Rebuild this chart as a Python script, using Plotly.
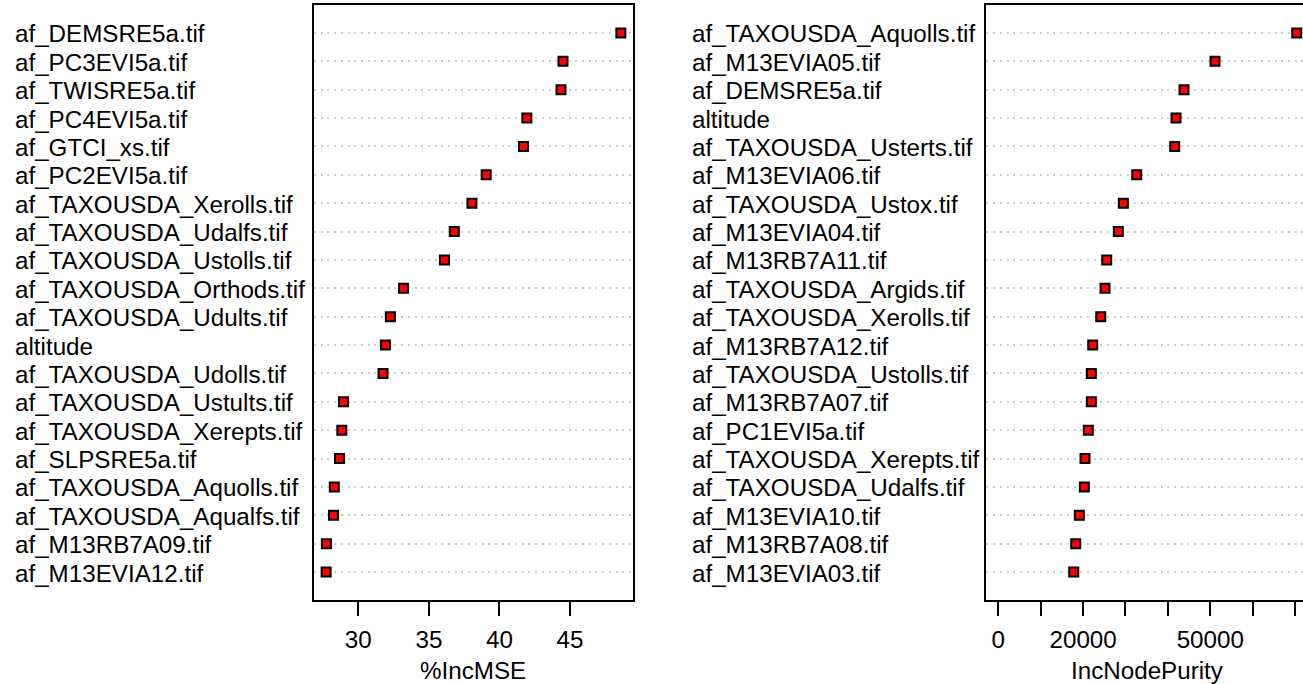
import plotly.graph_objects as go

# ---- data ----
mse_labels = [
    "af_DEMSRE5a.tif", "af_PC3EVI5a.tif", "af_TWISRE5a.tif", "af_PC4EVI5a.tif",
    "af_GTCI_xs.tif", "af_PC2EVI5a.tif", "af_TAXOUSDA_Xerolls.tif",
    "af_TAXOUSDA_Udalfs.tif", "af_TAXOUSDA_Ustolls.tif", "af_TAXOUSDA_Orthods.tif",
    "af_TAXOUSDA_Udults.tif", "altitude", "af_TAXOUSDA_Udolls.tif",
    "af_TAXOUSDA_Ustults.tif", "af_TAXOUSDA_Xerepts.tif", "af_SLPSRE5a.tif",
    "af_TAXOUSDA_Aquolls.tif", "af_TAXOUSDA_Aqualfs.tif", "af_M13RB7A09.tif",
    "af_M13EVIA12.tif",
]
mse_values = [
    48.6, 44.5, 44.36, 41.94, 41.7, 39.06, 38.05, 36.8, 36.1, 33.2,
    32.27, 31.92, 31.75, 28.95, 28.83, 28.67, 28.3, 28.24, 27.74, 27.72,
]

np_labels = [
    "af_TAXOUSDA_Aquolls.tif", "af_M13EVIA05.tif", "af_DEMSRE5a.tif", "altitude",
    "af_TAXOUSDA_Usterts.tif", "af_M13EVIA06.tif", "af_TAXOUSDA_Ustox.tif",
    "af_M13EVIA04.tif", "af_M13RB7A11.tif", "af_TAXOUSDA_Argids.tif",
    "af_TAXOUSDA_Xerolls.tif", "af_M13RB7A12.tif", "af_TAXOUSDA_Ustolls.tif",
    "af_M13RB7A07.tif", "af_PC1EVI5a.tif", "af_TAXOUSDA_Xerepts.tif",
    "af_TAXOUSDA_Udalfs.tif", "af_M13EVIA10.tif", "af_M13RB7A08.tif",
    "af_M13EVIA03.tif",
]
np_values = [
    70400, 51120, 43810, 41920, 41610, 32650, 29490, 28310, 25570, 25170,
    24160, 22270, 21940, 21940, 21230, 20450, 20290, 19110, 18260, 17790,
]

mse_tickvals = [30, 35, 40, 45]
mse_ticktext = ["30", "35", "40", "45"]
np_tickvals = [0, 10000, 20000, 30000, 40000, 50000, 60000, 70000]
np_ticktext = ["0", "", "20000", "", "", "50000", "", ""]

mse_title = "%IncMSE"
np_title = "IncNodePurity"

# ---- layout geometry (page margin removed by post_script) ----
W, H = 1303, 684
FONT = "Liberation Sans, Arial, sans-serif"
FS = 24.2
marker = dict(symbol="square", size=9, color="#FF0000",
              line=dict(color="black", width=2))

fig = go.Figure()
fig.add_trace(go.Scatter(x=mse_values, y=mse_labels, mode="markers", cliponaxis=False,
                         marker=marker, xaxis="x", yaxis="y", showlegend=False))
fig.add_trace(go.Scatter(x=np_values, y=np_labels, mode="markers", cliponaxis=False,
                         marker=marker, xaxis="x2", yaxis="y2", showlegend=False))

def px(p):
    return p / W

def py(p):
    return 1 - p / H

left_dom = [px(314), px(632.7)]
right_dom = [px(986.4), 1.0]
ydom = [py(600.4), py(4.6)]
n = len(mse_labels)

xcommon = dict(showline=True, linecolor="black", linewidth=2, mirror=True,
               ticks="outside", ticklen=14, tickwidth=2, tickcolor="black",
               ticklabelstandoff=3,
               showgrid=False, zeroline=False,
               tickfont=dict(family=FONT, size=FS, color="black"))
ycommon = dict(showline=True, linecolor="black", linewidth=2,
               showticklabels=False, ticks="", zeroline=False,
               showgrid=True, gridcolor="#CDCDCD", gridwidth=1.5,
               griddash="2px,4.7px", categoryorder="array",
               range=[-1, n], domain=ydom)

fig.update_layout(
    width=W, height=H,
    margin=dict(l=0, r=0, t=0, b=0),
    paper_bgcolor="white", plot_bgcolor="white",
    font=dict(family=FONT, size=FS, color="black"),
    xaxis=dict(domain=left_dom, range=[26.86, 49.44],
               tickvals=mse_tickvals, ticktext=mse_ticktext, anchor="y", **xcommon),
    yaxis=dict(anchor="x", mirror=True, categoryarray=list(reversed(mse_labels)), **ycommon),
    xaxis2=dict(domain=right_dom, range=[-2816, 71880],
                tickvals=np_tickvals, ticktext=np_ticktext, anchor="y2", **xcommon),
    yaxis2=dict(anchor="x2", mirror=False, categoryarray=list(reversed(np_labels)), **ycommon),
)

ann = []
for lab in mse_labels:
    ann.append(dict(x=px(13), xref="paper", y=lab, yref="y", text=lab,
                    xanchor="left", yanchor="middle", showarrow=False, yshift=-1,
                    font=dict(family=FONT, size=FS, color="black")))
for lab in np_labels:
    ann.append(dict(x=px(690), xref="paper", y=lab, yref="y2", text=lab,
                    xanchor="left", yanchor="middle", showarrow=False, yshift=-1,
                    font=dict(family=FONT, size=FS, color="black")))
ann.append(dict(x=px(473), xref="paper", y=py(670), yref="paper", text=mse_title,
                xanchor="center", yanchor="middle", showarrow=False,
                font=dict(family=FONT, size=FS, color="black")))
ann.append(dict(x=px(1147.5), xref="paper", y=py(670), yref="paper", text=np_title,
                xanchor="center", yanchor="middle", showarrow=False,
                font=dict(family=FONT, size=FS, color="black")))
fig.update_layout(annotations=ann)

fig.write_html(
    "out.html",
    config={"displayModeBar": False},
    post_script="document.body.style.margin='0';"
                "document.documentElement.style.overflow='hidden';"
                "document.body.style.overflow='hidden';",
)
